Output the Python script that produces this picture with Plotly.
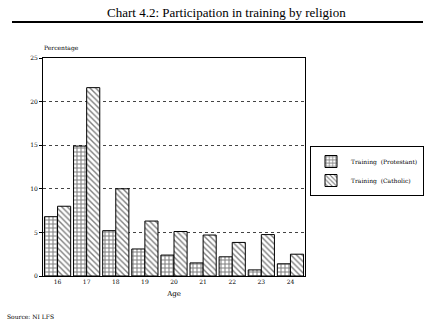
import plotly.graph_objects as go

ages = ["16", "17", "18", "19", "20", "21", "22", "23", "24"]
protestant = [6.8, 14.9, 5.2, 3.1, 2.4, 1.5, 2.2, 0.7, 1.4]
catholic = [8.0, 21.6, 10.0, 6.3, 5.1, 4.7, 3.85, 4.75, 2.5]
y_ticks = [0, 5, 10, 15, 20, 25]
series_names = ["Training  (Protestant)", "Training  (Catholic)"]

FONT = "DejaVu Serif"
W, H = 431, 325

# paper covers the whole figure; helpers convert pixel positions to paper fractions
def fx(x):
    return x / W

def fy(y):
    return (H - y) / H

PAT_P = dict(shape="+", fgcolor="black", bgcolor="white", size=4, solidity=0.45)
PAT_C = dict(shape="\\", fgcolor="black", bgcolor="white", size=4, solidity=0.35)

fig = go.Figure()
fig.add_trace(go.Bar(
    x=ages, y=protestant, name=series_names[0],
    marker=dict(color="white", line=dict(color="black", width=1), pattern=PAT_P),
))
fig.add_trace(go.Bar(
    x=ages, y=catholic, name=series_names[1],
    marker=dict(color="white", line=dict(color="black", width=1), pattern=PAT_C),
))
# decorative rule under the title, drawn as a full-width bar on a helper axis
fig.add_trace(go.Bar(
    x=[1], y=["rule"], orientation="h", xaxis="x2", yaxis="y2", width=1,
    showlegend=False, hoverinfo="skip",
    marker=dict(color="black", line=dict(width=0)),
))

fig.update_layout(
    width=W, height=H,
    margin=dict(l=0, r=0, t=0, b=0, autoexpand=False),
    paper_bgcolor="white", plot_bgcolor="white",
    barmode="group", bargap=0.1, bargroupgap=0,
    font=dict(family=FONT, size=6, color="black"),
    showlegend=True,
    legend=dict(x=fx(424), y=fy(146), xanchor="right", yanchor="top",
                bordercolor="black", borderwidth=1, bgcolor="white",
                font=dict(family=FONT, size=6, color="black"),
                itemwidth=30, tracegroupgap=0),
    xaxis=dict(domain=[fx(43), fx(305)], anchor="y", showline=True, linecolor="black",
               linewidth=1, mirror=True, showgrid=False, ticks="", tickfont=dict(size=6),
               title=dict(text="Age", font=dict(family=FONT, size=7), standoff=6)),
    yaxis=dict(domain=[fy(276), fy(58)], anchor="x", range=[0, 25], tickvals=y_ticks,
               showline=True, linecolor="black", linewidth=1, mirror=True,
               showgrid=True, gridcolor="#444444", griddash="dot", gridwidth=1,
               ticks="outside", ticklen=3, tickcolor="black", tickfont=dict(size=6),
               zeroline=False),
    xaxis2=dict(domain=[fx(12), fx(423)], anchor="y2", range=[0, 1], visible=False,
                fixedrange=True),
    yaxis2=dict(domain=[fy(23), fy(21)], anchor="x2", visible=False, fixedrange=True),
)

fig.add_annotation(text="Chart 4.2: Participation in training by religion",
                   xref="paper", yref="paper", x=fx(227), y=fy(12),
                   xanchor="center", yanchor="middle", showarrow=False,
                   font=dict(family="Liberation Serif", size=13, color="black"))
fig.add_annotation(text="Percentage", xref="paper", yref="paper",
                   x=fx(42), y=fy(48), xanchor="left", yanchor="middle",
                   showarrow=False, font=dict(family=FONT, size=6, color="black"))
fig.add_annotation(text="Source: NI LFS", xref="paper", yref="paper",
                   x=fx(5), y=fy(316), xanchor="left", yanchor="middle",
                   showarrow=False, font=dict(family=FONT, size=6, color="black"))

fig.write_html("out.html")
